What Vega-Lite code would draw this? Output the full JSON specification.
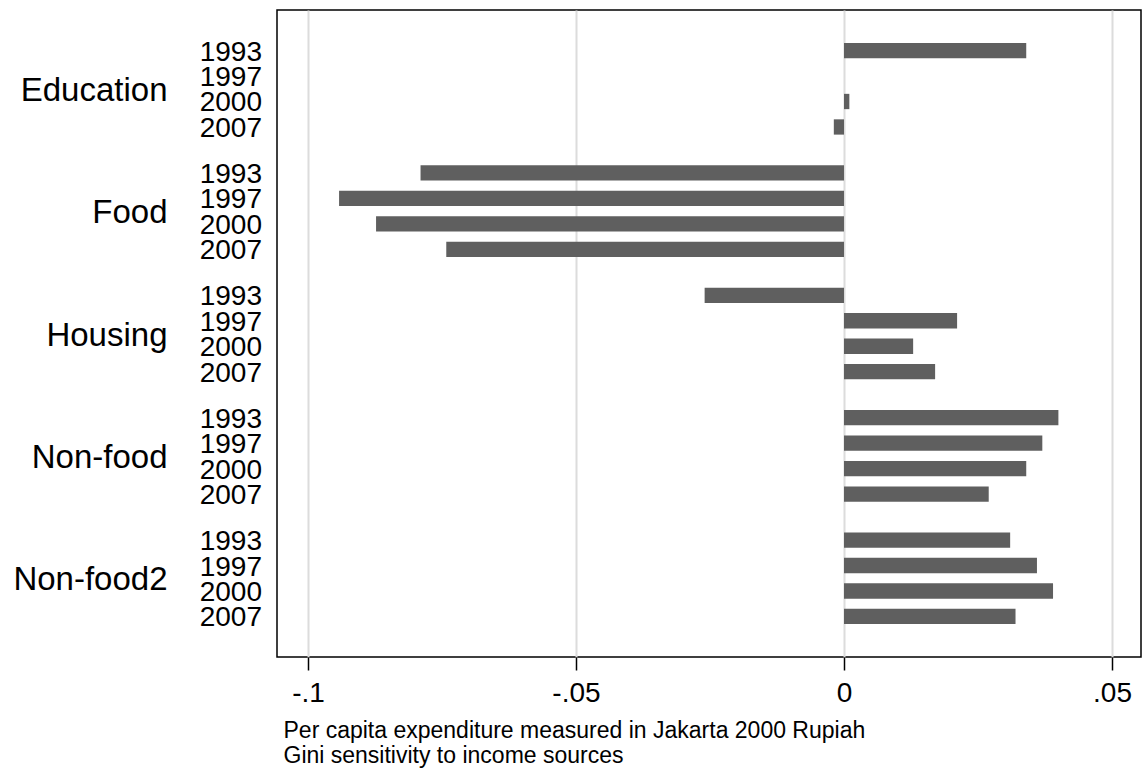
{
  "$schema": "https://vega.github.io/schema/vega-lite/v6.json",
  "width": 864,
  "height": 647,
  "autosize": {"type": "none"},
  "padding": {"left": 277, "top": 10, "right": 1, "bottom": 112},
  "background": "white",
  "config": {"font": "Liberation Sans", "view": {"stroke": "#000000", "strokeWidth": 1.5}},
  "data": {"values": [
    {"category": "Education", "year": "1993", "value": 0.034},
    {"category": "Education", "year": "1997", "value": 0},
    {"category": "Education", "year": "2000", "value": 0.001},
    {"category": "Education", "year": "2007", "value": -0.0019},
    {"category": "Food", "year": "1993", "value": -0.079},
    {"category": "Food", "year": "1997", "value": -0.0942},
    {"category": "Food", "year": "2000", "value": -0.0873},
    {"category": "Food", "year": "2007", "value": -0.0742},
    {"category": "Housing", "year": "1993", "value": -0.026},
    {"category": "Housing", "year": "1997", "value": 0.0211},
    {"category": "Housing", "year": "2000", "value": 0.0129},
    {"category": "Housing", "year": "2007", "value": 0.017},
    {"category": "Non-food", "year": "1993", "value": 0.040},
    {"category": "Non-food", "year": "1997", "value": 0.037},
    {"category": "Non-food", "year": "2000", "value": 0.034},
    {"category": "Non-food", "year": "2007", "value": 0.027},
    {"category": "Non-food2", "year": "1993", "value": 0.031},
    {"category": "Non-food2", "year": "1997", "value": 0.036},
    {"category": "Non-food2", "year": "2000", "value": 0.039},
    {"category": "Non-food2", "year": "2007", "value": 0.032}
  ]},
  "layer": [
    {
      "mark": {"type": "bar", "color": "#5f5f5f"},
      "encoding": {
        "y": {
          "field": "category", "type": "nominal", "sort": null,
          "scale": {"paddingInner": 0.167, "paddingOuter": 0.227},
          "axis": {"title": null, "domain": false, "ticks": false, "tickSize": 0, "grid": false,
                   "labelFontSize": 33, "labelPadding": 110, "labelOffset": 2, "labelColor": "#000000"}
        },
        "yOffset": {"field": "year", "type": "ordinal", "sort": null,
                    "scale": {"paddingInner": 0.4, "paddingOuter": 0.2}},
        "x": {
          "field": "value", "type": "quantitative",
          "scale": {"domain": [-0.10578, 0.05541], "nice": false, "zero": false},
          "axis": {
            "values": [-0.1, -0.05, 0, 0.05],
            "labelExpr": "datum.value < -0.07 ? '-.1' : datum.value < -0.02 ? '-.05' : datum.value < 0.02 ? '0' : '.05'",
            "grid": true, "gridColor": "#dcdcdc", "gridWidth": 2,
            "domain": false, "tickColor": "#000000", "tickSize": 13, "tickWidth": 1.5,
            "labelFontSize": 28, "labelColor": "#000000", "labelPadding": 9,
            "title": ["Per capita expenditure measured in Jakarta 2000 Rupiah", "Gini sensitivity to income sources"],
            "titleFontSize": 23, "titleFontWeight": "normal", "titleColor": "#000000",
            "titleAnchor": "start", "titleAlign": "left", "titleX": 6, "titleY": 62,
            "titleBaseline": "top", "titleLineHeight": 25
          }
        }
      }
    },
    {
      "mark": {"type": "text", "align": "right", "baseline": "middle", "dx": -15, "dy": 2, "fontSize": 28, "color": "#000000"},
      "encoding": {
        "y": {"field": "category", "type": "nominal", "sort": null},
        "yOffset": {"field": "year", "type": "ordinal", "sort": null},
        "x": {"datum": -0.10578},
        "text": {"field": "year"}
      }
    }
  ]
}
